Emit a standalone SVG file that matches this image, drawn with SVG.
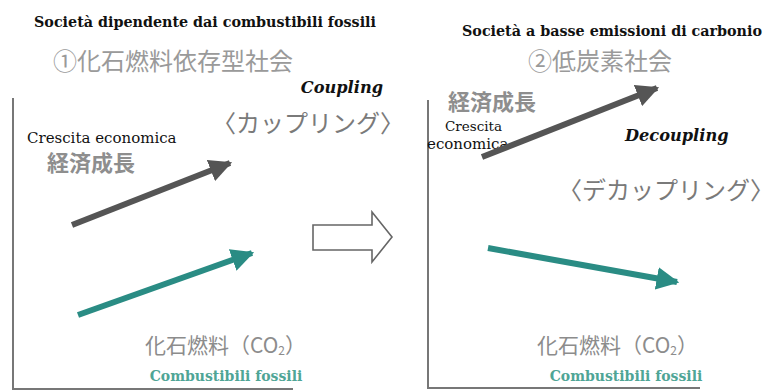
<svg xmlns="http://www.w3.org/2000/svg" width="784" height="392" viewBox="0 0 784 392">
<style>
.it{font-family:"DejaVu Serif","Liberation Serif",serif;fill:#111}
.ttl{font-weight:bold;font-size:14.3px}
.bi{font-weight:bold;font-style:italic;font-size:16.2px}
.jp{font-family:"Noto Sans CJK JP","Noto Sans",sans-serif}
.jt{fill:#9a9a9a;font-size:24px}
.jk{fill:#7a7a7a;font-size:24px}
.jg{fill:#8e8e8e;font-size:22px;font-weight:bold}
.jf{fill:#8c8c8c;font-size:21px}
.cf{font-family:"DejaVu Serif","Liberation Serif",serif;font-weight:bold;font-size:14px;fill:#4fa596}
.axis{stroke:#777;stroke-width:2;fill:none}
</style>
<defs>
<marker id="hg" viewBox="0 0 10 10" refX="9" refY="5" markerWidth="3.8" markerHeight="3.8" orient="auto" markerUnits="strokeWidth"><path d="M0,0 L10,5 L0,10 z" fill="#555"/></marker>
<marker id="ht" viewBox="0 0 10 10" refX="9" refY="5" markerWidth="3.8" markerHeight="3.8" orient="auto" markerUnits="strokeWidth"><path d="M0,0 L10,5 L0,10 z" fill="#2a8c84"/></marker>
</defs>
<rect width="784" height="392" fill="#fff"/>
<g id="left-panel">
<path class="axis" d="M13,98 V389 H293"/>
<text class="it ttl" x="205" y="27" text-anchor="middle">Società dipendente dai combustibili fossili</text>
<text class="jp jt" x="53" y="70">①化石燃料依存型社会</text>
<text class="it bi" x="383" y="93" text-anchor="end">Coupling</text>
<text class="jp jk" x="212" y="132">〈カップリング〉</text>
<text class="it" x="27" y="143" font-size="15">Crescita economica</text>
<text class="jp jg" x="47" y="171">経済成長</text>
<text class="jp jf" x="145" y="353">化石燃料（CO<tspan font-size="12" dy="2">2</tspan><tspan dy="-2">）</tspan></text>
<text class="cf" x="226" y="381" text-anchor="middle">Combustibili fossili</text>
</g>
<g id="transition-arrow">
<path d="M313,225 H372 V212 L392,237 L372,262 V250 H313 Z" fill="#fff" stroke="#666" stroke-width="1.6"/>
</g>
<g id="right-panel">
<path class="axis" d="M428,100 V388 H700"/>
<text class="it ttl" x="612" y="36" text-anchor="middle">Società a basse emissioni di carbonio</text>
<text class="jp jt" x="528" y="70">②低炭素社会</text>
<text class="jp jg" x="448" y="110">経済成長</text>
<text class="it" x="445" y="131" font-size="13.5">Crescita</text>
<text class="it" x="427" y="149" font-size="15">economica</text>
<text class="it bi" x="625" y="141">Decoupling</text>
<text class="jp jk" x="558" y="199">〈デカップリング〉</text>
<text class="jp jf" x="537" y="353">化石燃料（CO<tspan font-size="12" dy="2">2</tspan><tspan dy="-2">）</tspan></text>
<text class="cf" x="626" y="381" text-anchor="middle">Combustibili fossili</text>
</g>
<g id="connectors">
<line x1="72" y1="225" x2="230" y2="163" stroke="#555" stroke-width="6" marker-end="url(#hg)"/>
<line x1="78" y1="315" x2="252" y2="253" stroke="#2a8c84" stroke-width="6" marker-end="url(#ht)"/>
<line x1="482" y1="157" x2="657" y2="88" stroke="#555" stroke-width="6" marker-end="url(#hg)"/>
<line x1="488" y1="248" x2="677" y2="282" stroke="#2a8c84" stroke-width="6" marker-end="url(#ht)"/>
</g>
</svg>
